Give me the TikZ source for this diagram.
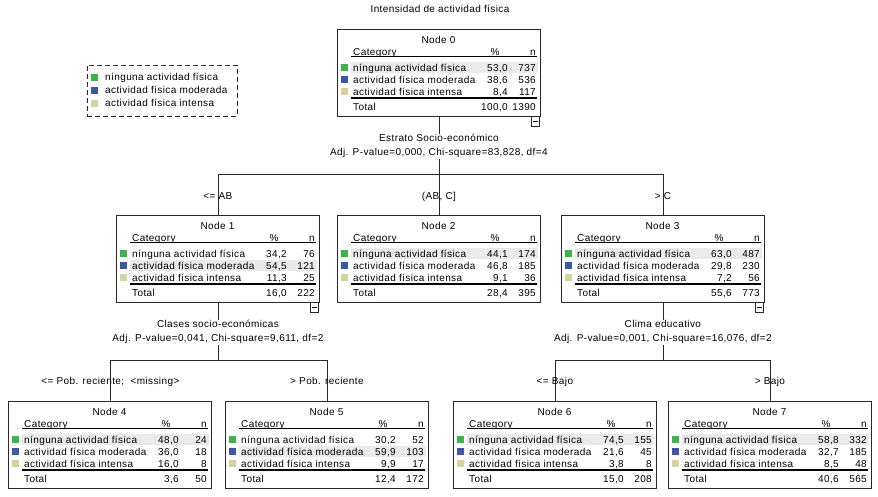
\documentclass[tikz,border=0pt]{standalone}
\usepackage{fontspec}
\setmainfont{Liberation Sans}[LetterSpace=4]
\usetikzlibrary{calc}
\definecolor{cgreen}{RGB}{60,180,75}
\definecolor{cblue}{RGB}{61,86,166}
\definecolor{ctan}{RGB}{214,209,160}
\definecolor{hl}{RGB}{234,234,234}
\definecolor{edge}{RGB}{40,40,40}
\tikzset{
  txt/.style={inner sep=0pt, font=\fontsize{10}{14}\selectfont, text=black, text height=7.1pt, text depth=0pt},
  spl/.style={inner sep=0pt, font=\fontsize{10}{14}\selectfont, text=black, align=center, minimum height=25pt},
  box/.style={draw=edge, line width=0.8pt, minimum width=203pt, minimum height=87pt, inner sep=0pt, anchor=north west},
  conn/.style={draw=edge, line width=0.8pt},
  rule/.style={draw=black, line width=0.7pt},
  minusbox/.style={draw=edge, line width=0.7pt, fill=white},
  legbox/.style={draw=edge, line width=0.8pt, dash pattern=on 5pt off 3pt, minimum width=150pt, minimum height=51pt, inner sep=0pt, anchor=north west}
}
\newcommand\ctbox[5]{%
  \def\cN{#1}\def\cL{#2}\def\cT{#3}%
  \fill[hl] (\cL+14,{\cT+38.5+12*(#5-1)-5.5}) rectangle ++(187,11);
  \node[box] (#1) at (\cL,\cT) {};
  \node[txt] (#1-t) at (\cL+101.5,\cT+11) {Node #4};
  \node[txt,anchor=west] (#1-c) at (\cL+16,\cT+23) {Category};
  \node[txt] (#1-ph) at (\cL+158,\cT+23) {\%};
  \node[txt,anchor=east] (#1-nh) at (\cL+199,\cT+23) {n};
  \draw[rule] (\cL+14,\cT+27.5) -- (\cL+200,\cT+27.5);
  \fill[cgreen] (\cL+4,\cT+35) rectangle ++(7,7);
  \fill[cblue] (\cL+4,\cT+47) rectangle ++(7,7);
  \fill[ctan] (\cL+4,\cT+59) rectangle ++(7,7);
  \node[txt,anchor=west] (#1-a) at (\cL+16,\cT+38.5) {nínguna actividad física};
  \node[txt,anchor=west] (#1-b) at (\cL+16,\cT+50.5) {actividad física moderada};
  \node[txt,anchor=west] (#1-d) at (\cL+16,\cT+62.5) {actividad física intensa};
  \draw[rule, line width=1.3pt] (\cL+14,\cT+69) -- (\cL+200,\cT+69);
  \node[txt,anchor=west] (#1-tot) at (\cL+16,\cT+78) {Total};
}
\newcommand\ctvals[8]{%
  \node[txt,anchor=east] (\cN-p1) at (\cL+171,\cT+38.5) {#1};
  \node[txt,anchor=east] (\cN-n1) at (\cL+199,\cT+38.5) {#2};
  \node[txt,anchor=east] (\cN-p2) at (\cL+171,\cT+50.5) {#3};
  \node[txt,anchor=east] (\cN-n2) at (\cL+199,\cT+50.5) {#4};
  \node[txt,anchor=east] (\cN-p3) at (\cL+171,\cT+62.5) {#5};
  \node[txt,anchor=east] (\cN-n3) at (\cL+199,\cT+62.5) {#6};
  \node[txt,anchor=east] (\cN-pt) at (\cL+171,\cT+78) {#7};
  \node[txt,anchor=east] (\cN-nt) at (\cL+199,\cT+78) {#8};
}
\newcommand\ctminus[1]{%
  \draw[minusbox] ($(#1.south east)+(-9,0)$) rectangle ($(#1.south east)+(-1,10)$);
  \draw[rule] ($(#1.south east)+(-7.5,5)$) -- ($(#1.south east)+(-2.5,5)$);
}
\begin{document}
\begin{tikzpicture}[x=1pt, y=-1pt]
\fill[white] (0,0) rectangle (878,496);
\useasboundingbox (0,0) rectangle (878,496);

\node[txt] (title) at (440,9) {Intensidad de actividad física};

% legend
\node[legbox] (leg) at (87,65) {};
\fill[cgreen] (91,73.5) rectangle ++(7,7);
\fill[cblue] (91,86.5) rectangle ++(7,7);
\fill[ctan] (91,99.5) rectangle ++(7,7);
\node[txt,anchor=west] (leg-a) at (105,77) {nínguna actividad física};
\node[txt,anchor=west] (leg-b) at (105,90) {actividad física moderada};
\node[txt,anchor=west] (leg-c) at (105,103) {actividad física intensa};

% nodes
\ctbox{n0}{337}{29}{0}{1}
\ctvals{53,0}{737}{38,6}{536}{8,4}{117}{100,0}{1390}
\ctbox{n1}{116}{215}{1}{2}
\ctvals{34,2}{76}{54,5}{121}{11,3}{25}{16,0}{222}
\ctbox{n2}{337}{215}{2}{1}
\ctvals{44,1}{174}{46,8}{185}{9,1}{36}{28,4}{395}
\ctbox{n3}{561}{215}{3}{1}
\ctvals{63,0}{487}{29,8}{230}{7,2}{56}{55,6}{773}
\ctbox{n4}{8}{401}{4}{1}
\ctvals{48,0}{24}{36,0}{18}{16,0}{8}{3,6}{50}
\ctbox{n5}{225}{401}{5}{2}
\ctvals{30,2}{52}{59,9}{103}{9,9}{17}{12,4}{172}
\ctbox{n6}{453}{401}{6}{1}
\ctvals{74,5}{155}{21,6}{45}{3,8}{8}{15,0}{208}
\ctbox{n7}{668}{401}{7}{1}
\ctvals{58,8}{332}{32,7}{185}{8,5}{48}{40,6}{565}

% root split
\node[spl] (s0) at ($(n0.south)+(0,29.5)$) {Estrato Socio-económico\\Adj. P-value=0,000, Chi-square=83,828, df=4};
\coordinate (b0) at ($(n0.south)+(0,57.5)$);
\draw[conn] (n0.south) -- (s0.north);
\draw[conn] (s0.south) -- (b0);
\draw[conn] (n1.north) |- (b0) -| (n3.north);
\draw[conn] (b0) -- (n2.north);
\node[txt] (l1) at ($(n1.north)+(0,-19)$) {<= AB};
\node[txt] (l2) at ($(n2.north)+(0,-19)$) {(AB, C]};
\node[txt] (l3) at ($(n3.north)+(0,-19)$) {> C};

% node 1 split
\node[spl] (s1) at ($(n1.south)+(0,29.5)$) {Clases socio-económicas\\Adj. P-value=0,041, Chi-square=9,611, df=2};
\coordinate (b1) at ($(n1.south)+(0,57.5)$);
\draw[conn] (n1.south) -- (s1.north);
\draw[conn] (s1.south) -- (b1);
\draw[conn] (n4.north) |- (b1) -| (n5.north);
\node[txt] (l4) at ($(n4.north)+(0.5,-20)$) {<= Pob. reciente;~ <missing>};
\node[txt] (l5) at ($(n5.north)+(0,-20)$) {> Pob. reciente};

% node 3 split
\node[spl] (s3) at ($(n3.south)+(0,29.5)$) {Clima educativo\\Adj. P-value=0,001, Chi-square=16,076, df=2};
\coordinate (b3) at ($(n3.south)+(0,57.5)$);
\draw[conn] (n3.south) -- (s3.north);
\draw[conn] (s3.south) -- (b3);
\draw[conn] (n6.north) |- (b3) -| (n7.north);
\node[txt] (l6) at ($(n6.north)+(0,-20)$) {<= Bajo};
\node[txt] (l7) at ($(n7.north)+(0,-20)$) {> Bajo};

\ctminus{n0}
\ctminus{n1}
\ctminus{n3}
\end{tikzpicture}
\end{document}
